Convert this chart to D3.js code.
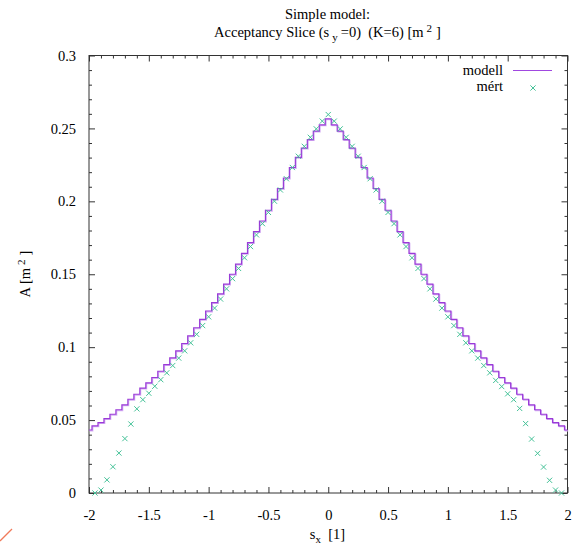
<!DOCTYPE html>
<html><head><meta charset="utf-8">
<script src="https://cdn.jsdelivr.net/npm/d3@7"></script>
<style>
body{margin:0;background:#fff}
svg text{font-family:'Liberation Serif',Tinos,'Nimbus Roman','DejaVu Serif',serif !important;font-size:14.5px;fill:#000}
</style>
</head><body>
<svg id="c" width="583" height="554"></svg>
<script>
// ---- data ----
const modelX = [-2,-1.95,-1.9,-1.85,-1.8,-1.75,-1.7,-1.65,-1.6,-1.55,-1.5,-1.45,-1.4,-1.35,-1.3,-1.25,-1.2,-1.15,-1.1,-1.05,-1,
  -0.95,-0.9,-0.85,-0.8,-0.75,-0.7,-0.65,-0.6,-0.55,-0.5,-0.45,-0.4,-0.35,-0.3,-0.25,-0.2,-0.15,-0.1,-0.05,0,
  0.05,0.1,0.15,0.2,0.25,0.3,0.35,0.4,0.45,0.5,0.55,0.6,0.65,0.7,0.75,0.8,0.85,0.9,0.95,1,
  1.05,1.1,1.15,1.2,1.25,1.3,1.35,1.4,1.45,1.5,1.55,1.6,1.65,1.7,1.75,1.8,1.85,1.9,1.95,2];
const modelY = [0.0432,0.0460,0.0483,0.0510,0.0540,0.0571,0.0604,0.0643,0.0677,0.0719,0.0755,0.0792,0.0835,0.0880,0.0927,0.0975,0.1025,0.1077,0.1133,0.1190,0.1248,
  0.1305,0.1366,0.1432,0.1500,0.1570,0.1643,0.1717,0.1792,0.1865,0.1939,0.2013,0.2088,0.2160,0.2232,0.2302,0.2365,0.2423,0.2482,0.2524,0.2565,
  0.2524,0.2482,0.2423,0.2365,0.2302,0.2232,0.2160,0.2088,0.2013,0.1939,0.1865,0.1792,0.1717,0.1643,0.1570,0.1500,0.1432,0.1366,0.1305,0.1248,
  0.1190,0.1133,0.1077,0.1025,0.0975,0.0927,0.0880,0.0835,0.0792,0.0755,0.0719,0.0677,0.0643,0.0604,0.0571,0.0540,0.0510,0.0483,0.0460,0.0432];
const mertX = [-1.95,-1.9,-1.85,-1.8,-1.75,-1.7,-1.65,-1.6,-1.55,-1.5,-1.45,-1.4,-1.35,-1.3,-1.25,-1.2,-1.15,-1.1,-1.05,-1,
  -0.95,-0.9,-0.85,-0.8,-0.75,-0.7,-0.65,-0.6,-0.55,-0.5,-0.45,-0.4,-0.35,-0.3,-0.25,-0.2,-0.15,-0.1,-0.05,0,
  0.05,0.1,0.15,0.2,0.25,0.3,0.35,0.4,0.45,0.5,0.55,0.6,0.65,0.7,0.75,0.8,0.85,0.9,0.95,1,
  1.05,1.1,1.15,1.2,1.25,1.3,1.35,1.4,1.45,1.5,1.55,1.6,1.65,1.7,1.75,1.8,1.85,1.9,1.95];
const mertY = [0.000,0.002,0.009,0.018,0.0274,0.0373,0.0473,0.0577,0.0640,0.0684,0.0732,0.0777,0.0824,0.0874,0.0925,0.0975,0.1030,0.1088,0.1148,0.1208,
  0.1268,0.1330,0.1400,0.1470,0.1540,0.1613,0.1690,0.1770,0.1847,0.1924,0.2001,0.2078,0.2155,0.2232,0.2309,0.2377,0.2439,0.2497,0.2550,0.2595,
  0.2550,0.2497,0.2439,0.2377,0.2309,0.2232,0.2155,0.2078,0.2001,0.1924,0.1847,0.1770,0.1690,0.1613,0.1540,0.1470,0.1400,0.1330,0.1268,0.1208,
  0.1148,0.1088,0.1030,0.0975,0.0925,0.0874,0.0824,0.0772,0.0730,0.0680,0.0640,0.0580,0.0476,0.0370,0.0272,0.0178,0.0087,0.002,0.000];
const xTicks = [-2,-1.5,-1,-0.5,0,0.5,1,1.5,2];
const xTickLabels = ["-2","-1.5","-1","-0.5","0","0.5","1","1.5","2"];
const yTicks = [0,0.05,0.1,0.15,0.2,0.25,0.3];
const yTickLabels = ["0","0.05","0.1","0.15","0.2","0.25","0.3"];
const xMinor = [-1.9,-1.8,-1.7,-1.6,-1.4,-1.3,-1.2,-1.1,-0.9,-0.8,-0.7,-0.6,-0.4,-0.3,-0.2,-0.1,0.1,0.2,0.3,0.4,0.6,0.7,0.8,0.9,1.1,1.2,1.3,1.4,1.6,1.7,1.8,1.9];
const yMinor = [0.01,0.02,0.03,0.04,0.06,0.07,0.08,0.09,0.11,0.12,0.13,0.14,0.16,0.17,0.18,0.19,0.21,0.22,0.23,0.24,0.26,0.27,0.28,0.29];
const seriesNames = ["modell","mért"];

// ---- layout ----
const L = 89, R = 567.5, T = 55.5, B = 493;
const svg = d3.select("#c");
const x = d3.scaleLinear().domain([-2,2]).range([L,R]);
const y = d3.scaleLinear().domain([0,0.3]).range([B,T]);
const axisColor = "#333";
const FONT = "'Liberation Serif', Tinos, 'Nimbus Roman', 'DejaVu Serif', serif";

function styleAxis(g){
  g.attr("font-family",FONT).attr("font-size",14.5);
  g.select(".domain").remove();
  g.selectAll(".tick line").attr("stroke",axisColor);
  g.selectAll(".tick text").attr("fill","#000");
}

// major axes with labels
svg.append("g").attr("transform",`translate(0,${B})`)
  .call(d3.axisBottom(x).tickValues(xTicks).tickSize(-6).tickPadding(17).tickFormat((d,i)=>xTickLabels[i]))
  .call(styleAxis);
svg.append("g").attr("transform",`translate(${L},0)`)
  .call(d3.axisLeft(y).tickValues(yTicks).tickSize(-6).tickPadding(13).tickFormat((d,i)=>yTickLabels[i]))
  .call(styleAxis);
// mirrored majors
svg.append("g").attr("transform",`translate(0,${T})`)
  .call(d3.axisTop(x).tickValues(xTicks).tickSize(-6).tickFormat(""))
  .call(styleAxis);
svg.append("g").attr("transform",`translate(${R},0)`)
  .call(d3.axisRight(y).tickValues(yTicks).tickSize(-6).tickFormat(""))
  .call(styleAxis);
// minors
svg.append("g").attr("transform",`translate(0,${B})`).call(d3.axisBottom(x).tickValues(xMinor).tickSize(-3).tickFormat("")).call(styleAxis);
svg.append("g").attr("transform",`translate(0,${T})`).call(d3.axisTop(x).tickValues(xMinor).tickSize(-3).tickFormat("")).call(styleAxis);
svg.append("g").attr("transform",`translate(${L},0)`).call(d3.axisLeft(y).tickValues(yMinor).tickSize(-3).tickFormat("")).call(styleAxis);
svg.append("g").attr("transform",`translate(${R},0)`).call(d3.axisRight(y).tickValues(yMinor).tickSize(-3).tickFormat("")).call(styleAxis);

// frame
svg.append("rect").attr("x",L).attr("y",T).attr("width",R-L).attr("height",B-T)
  .attr("fill","none").attr("stroke",axisColor).attr("stroke-width",1);

// model step line
const modelData = modelX.map((v,i)=>[v,modelY[i]]);
const line = d3.line().x(d=>x(d[0])).y(d=>y(d[1])).curve(d3.curveStep);
svg.append("path").datum(modelData).attr("d",line).attr("fill","none")
  .attr("stroke","#d6b2f4").attr("stroke-width",1.2).attr("transform","translate(0.8,0.8)");
svg.append("path").datum(modelData).attr("d",line).attr("fill","none")
  .attr("stroke","#9a3ad8").attr("stroke-width",1.2);

// measured points
const mertData = mertX.map((v,i)=>[v,mertY[i]]);
const s = 2.6;
function cross(g, cx, cy){
  g.append("path").attr("d",`M${cx-s},${cy-s}L${cx+s},${cy+s}M${cx-s},${cy+s}L${cx+s},${cy-s}`)
   .attr("stroke","#45c298").attr("stroke-width",1).attr("fill","none");
}
const pg = svg.append("g");
mertData.forEach(d=>cross(pg, x(d[0]), y(d[1])));

// text helper
function txt(xp, yp, anchor){
  return svg.append("text").attr("x",xp).attr("y",yp).attr("text-anchor",anchor)
    .attr("font-family",FONT).attr("font-size",14.5).attr("fill","#000");
}

// legend
txt(503,75,"end").text(seriesNames[0]);
svg.append("line").attr("x1",513).attr("x2",552).attr("y1",70.5).attr("y2",70.5).attr("stroke","#a048e0").attr("stroke-width",1.2);
txt(503,91,"end").text(seriesNames[1]);
cross(svg, 533, 88);

// titles
txt(327.5,19,"middle").text("Simple model:");
const t2 = txt(327.5,37,"middle");
t2.append("tspan").text("Acceptancy Slice (s");
t2.append("tspan").attr("dy",4).attr("dx",3).attr("font-size","11px").text("y");
t2.append("tspan").attr("dy",-4).attr("dx",3).text("=0)\u00a0\u00a0(K=6) [m");
t2.append("tspan").attr("dy",-5).attr("dx",3).attr("font-size","11px").text("2");
t2.append("tspan").attr("dy",5).attr("dx",4).text("]");

// x axis label
const xl = txt(327.5,539,"middle");
xl.append("tspan").text("s");
xl.append("tspan").attr("dy",4).attr("font-size","11px").text("x");
xl.append("tspan").attr("dy",-4).text("\u00a0\u00a0[1]");

// y axis label
const yl = svg.append("text").attr("transform","translate(30,274) rotate(-90)").attr("text-anchor","middle")
  .attr("font-family",FONT).attr("font-size",14.5).attr("fill","#000");
yl.append("tspan").text("A [m");
yl.append("tspan").attr("dy",-5).attr("dx",3).attr("font-size","11px").text("2");
yl.append("tspan").attr("dy",5).attr("dx",4).text("]");

// small artifact stroke at bottom-left
svg.append("line").attr("x1",0).attr("y1",541).attr("x2",12).attr("y2",529).attr("stroke","#f07a5a").attr("stroke-width",1.3);
</script>
</body></html>
